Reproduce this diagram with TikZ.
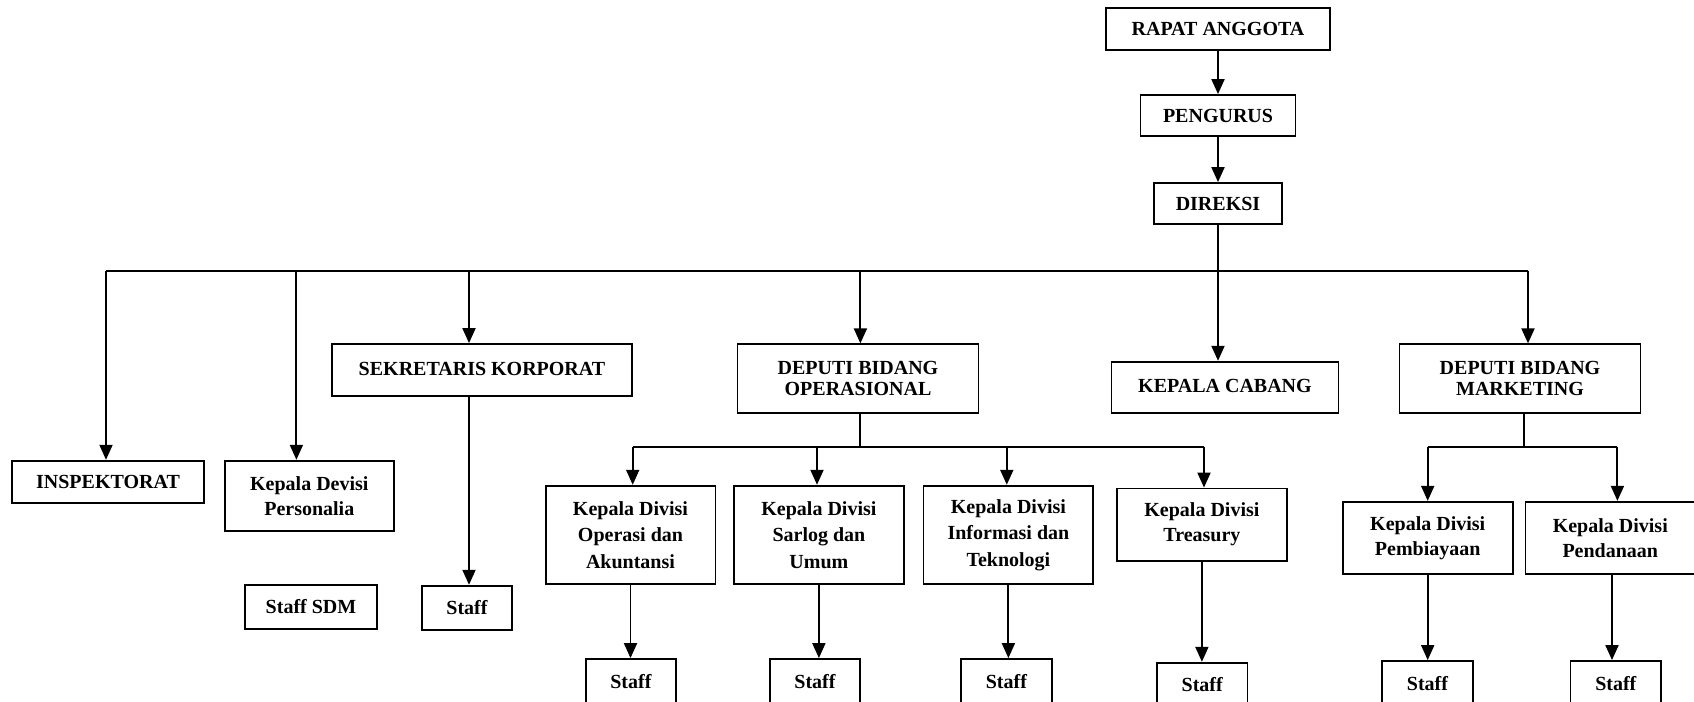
\documentclass[tikz,border=0pt]{standalone}
\usepackage{fontspec}
\setmainfont{Liberation Serif}
\usetikzlibrary{arrows.meta}
\tikzset{
  box/.style={draw, line width=0.9pt, inner sep=0pt, align=center, font=\fontsize{10}{12.5}\selectfont\bfseries},
  twoline/.style={font=\fontsize{10}{10.8}\selectfont\bfseries},
  threeline/.style={font=\fontsize{10}{13.3}\selectfont\bfseries},
  divbox/.style={box, minimum width=84.9pt},
  staffbox/.style={box, minimum width=45.25pt, minimum height=22.2pt},
  arr/.style={line width=0.95pt, -{Triangle[length=7.5pt,width=6.5pt]}},
  ln/.style={line width=0.95pt},
}
\begin{document}
\begin{tikzpicture}[x=0.5pt,y=-0.5pt]
\useasboundingbox (0,0) rectangle (1694,702);
\clip (0,0) rectangle (1694,702);
% top chain
\node[box, minimum width=112pt, minimum height=21pt] (rapat) at (1218,29) {\raisebox{-0.8pt}{RAPAT ANGGOTA}};
\node[box, minimum width=77.5pt, minimum height=20.5pt] (pengurus) at (1218,115.5) {PENGURUS};
\node[box, minimum width=64pt, minimum height=20.5pt] (direksi) at (1218,203.5) {DIREKSI};
% second level
\node[box, minimum width=150pt, minimum height=26pt] (sek) at (482,370) {\raisebox{1.6pt}{SEKRETARIS KORPORAT}};
\node[box, twoline, minimum width=120.5pt, minimum height=34.2pt] (depop) at (858,378.5) {DEPUTI BIDANG\\OPERASIONAL};
\node[box, minimum width=113.5pt, minimum height=25.5pt] (cabang) at (1225,387.2) {\raisebox{1.6pt}{KEPALA CABANG}};
\node[box, twoline, minimum width=120.5pt, minimum height=34.2pt] (depmkt) at (1520,378.5) {DEPUTI BIDANG\\MARKETING};
\node[box, minimum width=96pt, minimum height=21.3pt] (insp) at (108,482) {\raisebox{-0.6pt}{INSPEKTORAT}};
\node[box, minimum width=84.7pt, minimum height=35.2pt] (pers) at (309.3,495.9) {Kepala Devisi\\Personalia};
\node[box, minimum width=66pt, minimum height=22.2pt] (sdm) at (311,607) {Staff SDM};
\node[staffbox] (stsek) at (467,607.9) {Staff};
% divisions
\node[divbox, threeline, minimum height=49.2pt] (div1) at (630.5,534.9) {Kepala Divisi\\Operasi dan\\Akuntansi};
\node[divbox, threeline, minimum height=49.2pt] (div2) at (818.9,534.9) {Kepala Divisi\\Sarlog dan\\Umum};
\node[divbox, threeline, minimum height=49.2pt] (div3) at (1008.4,534.9) {Kepala Divisi\\Informasi dan\\Teknologi};
\node[divbox, minimum height=36.1pt] (div4) at (1201.9,524.6) {Kepala Divisi\\Treasury};
\node[divbox, minimum height=36.15pt] (div5) at (1427.7,537.9) {Kepala Divisi\\Pembiayaan};
\node[divbox, minimum height=36.15pt] (div6) at (1610.3,537.9) {Kepala Divisi\\Pendanaan};
% staff
\node[staffbox] (st1) at (630.9,681.2) {Staff};
\node[staffbox] (st2) at (815,681.2) {Staff};
\node[staffbox] (st3) at (1006.4,681.2) {Staff};
\node[staffbox] (st4) at (1202.2,684.9) {Staff};
\node[staffbox] (st5) at (1427.5,683.2) {Staff};
\node[staffbox] (st6) at (1615.8,683.2) {Staff};
% connectors top
\draw[arr] (rapat) -- (pengurus);
\draw[arr] (pengurus) -- (direksi);
% main bus
\coordinate (b1) at (106,270.7);
\coordinate (b2) at (296.4,270.7);
\coordinate (b3) at (469,270.7);
\coordinate (b4) at (860.4,270.7);
\coordinate (b6) at (1528,270.7);
\draw[ln] (b1) -- (b6);
\draw[arr] (direksi.south) -- (direksi.south |- cabang.north);
\draw[arr] (b1) -- (b1 |- insp.north);
\draw[arr] (b2) -- (b2 |- pers.north);
\draw[arr] (b3) -- (b3 |- sek.north);
\draw[arr] (b4) -- (b4 |- depop.north);
\draw[arr] (b6) -- (b6 |- depmkt.north);
\draw[arr] (b3 |- sek.south) -- (b3 |- stsek.north);
% operasional bus
\coordinate (o) at (860.4,446.7);
\coordinate (o1) at (632.7,446.7);
\coordinate (o2) at (817,446.7);
\coordinate (o3) at (1006.8,446.7);
\coordinate (o4) at (1204,446.7);
\draw[ln] (o |- depop.south) -- (o);
\draw[ln] (o1) -- (o4);
\draw[arr] (o1) -- (o1 |- div1.north);
\draw[arr] (o2) -- (o2 |- div2.north);
\draw[arr] (o3) -- (o3 |- div3.north);
\draw[arr] (o4) -- (o4 |- div4.north);
% marketing bus
\coordinate (m) at (1523.9,446.7);
\coordinate (m1) at (1427.7,446.7);
\coordinate (m2) at (1617.4,446.7);
\draw[ln] (m |- depmkt.south) -- (m);
\draw[ln] (m1) -- (m2);
\draw[arr] (m1) -- (m1 |- div5.north);
\draw[arr] (m2) -- (m2 |- div6.north);
% to staff
\draw[arr] (div1.south) -- (div1.south |- st1.north);
\draw[arr] (div2.south) -- (div2.south |- st2.north);
\draw[arr] (div3.south) -- (div3.south |- st3.north);
\draw[arr] (div4.south) -- (div4.south |- st4.north);
\draw[arr] (div5.south) -- (div5.south |- st5.north);
\draw[arr] (1612,0 |- div6.south) -- (1612,0 |- st6.north);
\end{tikzpicture}
\end{document}
